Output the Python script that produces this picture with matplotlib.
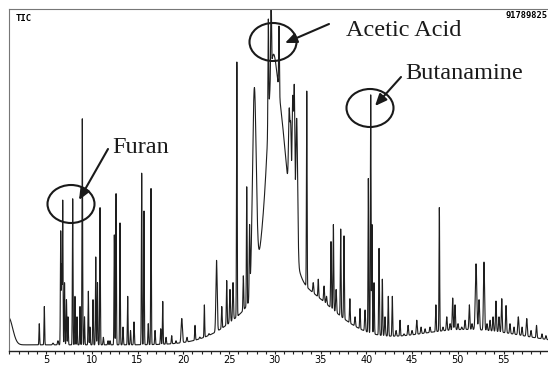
import numpy as np
import matplotlib
matplotlib.use("Agg")
import matplotlib.pyplot as plt
from matplotlib.patches import Ellipse

# retention time (min), relative abundance (fraction of full scale) and peak width (min)
peak_rt = [
    4.26, 4.81, 5.76, 6.30, 6.60, 6.71, 6.82, 7.02, 7.23, 7.40, 7.91, 8.16, 8.38, 8.71, 8.96,
    9.20, 9.62, 9.80, 10.13, 10.43, 10.62, 10.90, 11.26, 11.77, 11.99, 12.46, 12.65, 13.08,
    13.41, 13.92, 14.23, 14.61, 15.45, 15.70, 16.17, 16.47, 16.91, 17.53, 17.75, 18.11, 18.73,
    19.20, 19.83, 20.40, 21.28, 21.80, 22.30, 22.80, 23.63, 24.20, 24.74, 25.10, 25.43, 25.85,
    26.56, 26.93, 27.24, 27.76, 29.29, 29.59, 30.46, 31.58, 31.74, 31.96, 32.13, 32.39, 33.49,
    34.20, 34.75, 35.38, 35.65, 36.14, 36.40, 36.70, 37.20, 37.56, 38.20, 38.77, 39.31, 39.86,
    40.22, 40.48, 40.62, 40.84, 41.39, 41.75, 42.04, 42.40, 42.84, 43.25, 43.68, 44.12, 44.56,
    44.99, 45.51, 45.98, 46.42, 46.96, 47.60, 47.98, 48.38, 48.79, 49.15, 49.44, 49.69, 50.02,
    50.43, 50.79, 51.26, 51.55, 51.99, 52.32, 52.86, 53.19, 53.52, 53.85, 54.17, 54.50, 54.80,
    55.27, 55.70, 56.14, 56.61, 57.02, 57.53, 58.00, 58.60, 59.20, 59.63,
]
peak_abund = [
    0.08, 0.13, 0.02, 0.03, 0.35, 0.25, 0.44, 0.20, 0.15, 0.10, 0.445, 0.16, 0.10, 0.13, 0.68,
    0.10, 0.175, 0.07, 0.15, 0.275, 0.20, 0.42, 0.04, 0.03, 0.03, 0.34, 0.46, 0.375,
    0.07, 0.16, 0.06, 0.085, 0.52, 0.41, 0.08, 0.475, 0.06, 0.065, 0.145, 0.04, 0.045,
    0.03, 0.095, 0.04, 0.075, 0.035, 0.135, 0.04, 0.265, 0.13, 0.206, 0.18, 0.20, 0.845,
    0.22, 0.48, 0.35, 0.77, 0.97, 1.05, 0.95, 0.705, 0.62, 0.74, 0.72, 0.68, 0.76,
    0.20, 0.21, 0.19, 0.16, 0.32, 0.37, 0.18, 0.357, 0.337, 0.153, 0.10, 0.124, 0.12,
    0.505, 0.75, 0.37, 0.20, 0.30, 0.21, 0.10, 0.16, 0.16, 0.06, 0.09, 0.05, 0.075,
    0.06, 0.09, 0.07, 0.065, 0.07, 0.135, 0.42, 0.07, 0.10, 0.08, 0.155, 0.135, 0.08,
    0.07, 0.09, 0.135, 0.08, 0.255, 0.15, 0.26, 0.08, 0.09, 0.10, 0.146, 0.10, 0.153,
    0.133, 0.08, 0.07, 0.10, 0.07, 0.095, 0.06, 0.075, 0.05, 0.045,
]
peak_sigma = [
    0.035, 0.035, 0.06, 0.05, 0.035, 0.035, 0.035, 0.035, 0.035, 0.035, 0.035, 0.035, 0.035, 0.035, 0.035,
    0.035, 0.035, 0.035, 0.035, 0.035, 0.035, 0.035, 0.04, 0.04, 0.04, 0.035, 0.035, 0.035,
    0.04, 0.035, 0.04, 0.04, 0.035, 0.035, 0.04, 0.035, 0.04, 0.04, 0.035, 0.04, 0.04,
    0.04, 0.07, 0.05, 0.04, 0.05, 0.035, 0.05, 0.07, 0.04, 0.04, 0.05, 0.05, 0.035,
    0.04, 0.035, 0.04, 0.20, 0.04, 0.04, 0.04, 0.08, 0.06, 0.08, 0.06, 0.10, 0.035,
    0.05, 0.04, 0.05, 0.05, 0.04, 0.04, 0.05, 0.04, 0.04, 0.04, 0.05, 0.04, 0.05,
    0.035, 0.035, 0.035, 0.04, 0.04, 0.04, 0.05, 0.04, 0.04, 0.05, 0.04, 0.05, 0.05,
    0.05, 0.05, 0.05, 0.05, 0.05, 0.04, 0.035, 0.05, 0.05, 0.05, 0.05, 0.05, 0.05,
    0.05, 0.05, 0.05, 0.05, 0.08, 0.06, 0.06, 0.05, 0.05, 0.05, 0.05, 0.05, 0.05,
    0.05, 0.05, 0.05, 0.06, 0.05, 0.06, 0.05, 0.05, 0.05, 0.05,
]

# broad background: solvent tail, acetic acid envelope, column hump, bleed
bg_rt = [0.9, 29.7, 30.2, 31.5, 51.0]
bg_abund = [0.08, 0.17, 0.55, 0.18, 0.045]
bg_sigma = [0.45, 0.40, 1.10, 4.5, 6.0]
bg_offset = 0.018

x_ticks = list(range(5, 60, 5))
labels = {
    "Furan": (112, 153),
    "Acetic Acid": (346, 36),
    "Butanamine": (405, 79),
}


def gauss(t, centre, height, sigma):
    return height * np.exp(-0.5 * ((t - centre) / sigma) ** 2)


t = np.arange(0.95, 59.9, 0.004)
baseline = np.full_like(t, bg_offset)
for c, h, s in zip(bg_rt, bg_abund, bg_sigma):
    baseline += gauss(t, c, h, s)

tic = baseline.copy()
for c, h, s in zip(peak_rt, peak_abund, peak_sigma):
    under = np.interp(c, t, baseline)
    tic += gauss(t, c, max(h - under, 0.005), s)

fig = plt.figure(figsize=(5.48, 3.65), dpi=100)
ax = fig.add_axes([9 / 548, 14 / 365, 538.5 / 548, 342 / 365])
ax.plot(t, tic, color="#1e1e1e", lw=0.8)
ax.set_xlim(0.95, 59.8)
ax.set_ylim(0, 1.0)
ax.set_yticks([])
ax.set_xticks(x_ticks)
ax.set_xticks(range(1, 60), minor=True)
ax.tick_params(axis="x", which="both", direction="out", length=2.5, width=0.8, pad=0.5,
               labelsize=7, color="#222222")
for lab in ax.get_xticklabels():
    lab.set_family(["Liberation Sans Narrow", "DejaVu Sans"])
ax.spines["right"].set_visible(False)
ax.spines["top"].set_color("#777777")
ax.spines["left"].set_color("#777777")
ax.spines["bottom"].set_color("#222222")
ax.spines["bottom"].set_linewidth(1.0)

ax.text(0.012, 0.985, "TIC", transform=ax.transAxes, ha="left", va="top",
        fontsize=6.5, family="DejaVu Sans Mono", fontweight="bold")
ax.text(1.0, 0.993, "91789825", transform=ax.transAxes, ha="right", va="top",
        fontsize=6.3, family="DejaVu Sans Mono", fontweight="bold")

# annotation layer in pixel units
ov = fig.add_axes([0, 0, 1, 1])
ov.set_xlim(0, 548)
ov.set_ylim(365, 0)
ov.axis("off")
ov.patch.set_alpha(0)

for (cx, cy) in [(71, 204), (273, 42), (370, 108)]:
    ov.add_patch(Ellipse((cx, cy), 47, 38, fill=False, lw=1.5, ec="#1a1a1a"))

arrow = dict(arrowstyle="-|>,head_length=0.7,head_width=0.3", lw=1.5, color="#1a1a1a",
             shrinkA=0, shrinkB=0)
ov.annotate("", xy=(79, 200), xytext=(108, 149), arrowprops=arrow)
ov.annotate("", xy=(285, 43), xytext=(329, 24), arrowprops=arrow)
ov.annotate("", xy=(375, 106), xytext=(401, 77), arrowprops=arrow)

for name, (px, py) in labels.items():
    ov.text(px, py, name, ha="left", va="baseline", fontsize=17.5,
            family="Liberation Serif", color="#1a1a1a")

fig.savefig("out.png", dpi=100)
